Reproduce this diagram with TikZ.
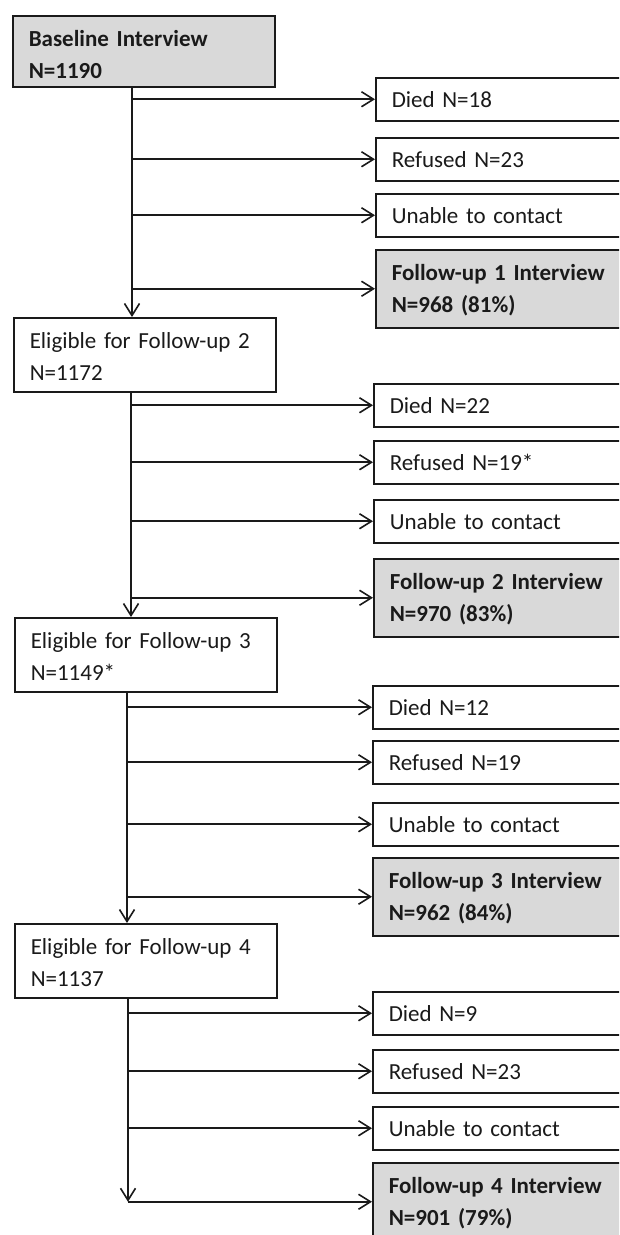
\documentclass[tikz,border=0pt]{standalone}
\usepackage{fontspec}
\setmainfont{Carlito}
\usetikzlibrary{arrows.meta}
\definecolor{boxgray}{HTML}{D9D9D9}
\definecolor{ink}{HTML}{1A1A1A}
\begin{document}
\begin{tikzpicture}[x=1pt,y=-1pt,
  every node/.style={font=\fontsize{23}{32}\selectfont, text=ink},
  bx/.style={draw=ink, line width=1.5pt, anchor=north west, inner xsep=16pt, inner ysep=0pt, align=left},
  lbox/.style={bx, minimum width=262pt, text width=230pt},
  rbox/.style={bx, minimum width=290pt, text width=258pt},
  one/.style={rbox, minimum height=43pt, text height=22pt, text depth=5pt},
  fu/.style={rbox, fill=boxgray, minimum height=78pt, text height=21pt, text depth=37pt, font=\fontsize{23}{32}\selectfont\bfseries},
  elig/.style={lbox, minimum height=74pt, text height=25pt, text depth=37pt},
  basebox/.style={lbox, fill=boxgray, minimum height=71pt, text height=28pt, text depth=37pt, font=\fontsize{23}{32}\selectfont\bfseries},
  arr/.style={draw=ink, line width=1.6pt, -{Straight Barb[length=12pt,width=15pt]}},
]
\useasboundingbox (0,0) rectangle (619,1235);
\fill[white] (0,0) rectangle (619,1235);
\clip (0,0) rectangle (619,1235);

% block 1
\node[basebox] (b0) at (12,15) {Baseline Interview\\N=1190};
\node[one] (d1) at (375,77) {Died N=18};
\node[one] (r1) at (375,137) {Refused N=23};
\node[one] (u1) at (375,193) {Unable to contact};
\node[fu] (f1) at (375,249) {Follow-up 1 Interview\\N=968 (81\%)};
% block 2
\node[elig] (e2) at (13,317) {Eligible for Follow-up 2\\N=1172};
\node[one] (d2) at (373,383) {Died N=22};
\node[one] (r2) at (373,440) {Refused N=19*};
\node[one] (u2) at (373,499) {Unable to contact};
\node[fu] (f2) at (373,558) {Follow-up 2 Interview\\N=970 (83\%)};
% block 3
\node[elig] (e3) at (14,617) {Eligible for Follow-up 3\\N=1149*};
\node[one] (d3) at (372,685) {Died N=12};
\node[one] (r3) at (372,740) {Refused N=19};
\node[one] (u3) at (372,802) {Unable to contact};
\node[fu] (f3) at (372,857) {Follow-up 3 Interview\\N=962 (84\%)};
% block 4
\node[elig] (e4) at (14,923) {Eligible for Follow-up 4\\N=1137};
\node[one] (d4) at (372,991) {Died N=9};
\node[one] (r4) at (372,1049) {Refused N=23};
\node[one] (u4) at (372,1106) {Unable to contact};
\node[fu] (f4) at (372,1162) {Follow-up 4 Interview\\N=901 (79\%)};

\coordinate (v1) at (132,0);
\coordinate (v2) at (131,0);
\coordinate (v3) at (127,0);
\coordinate (v4) at (128,0);

% trunks
\draw[arr] (b0.south -| v1) -- (e2.north -| v1);
\draw[arr] (e2.south -| v2) -- (e3.north -| v2);
\draw[arr] (e3.south -| v3) -- (e4.north -| v3);
\draw[arr] (e4.south -| v4) -- (v4 |- f4.west);

% branches
\foreach \v/\n in {v1/d1, v1/r1, v1/u1, v1/f1, v2/d2, v2/r2, v2/u2, v2/f2, v3/d3, v3/r3, v3/u3, v3/f3, v4/d4, v4/r4, v4/u4, v4/f4}
  \draw[arr] (\v |- \n.west) -- (\n.west);
\end{tikzpicture}
\end{document}
